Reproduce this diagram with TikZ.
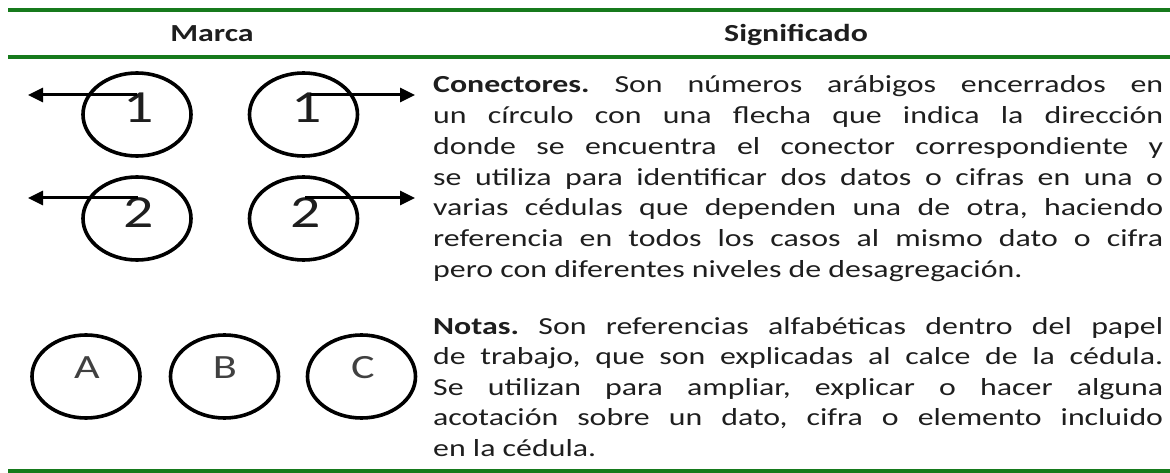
\documentclass[tikz,border=0pt]{standalone}
\usepackage{fontspec}
\setmainfont{Carlito}[FakeStretch=1.3]
\usetikzlibrary{shapes.geometric,arrows.meta}
\definecolor{rulegreen}{RGB}{22,122,28}
\definecolor{txt}{RGB}{30,30,30}
\newcommand{\jline}[1]{\makebox[\linewidth][s]{#1}}
\frenchspacing
\begin{document}
\begin{tikzpicture}[x=1pt,y=-1pt]
\tikzset{
  rule/.style={draw=rulegreen, line width=4pt},
  ring/.style={ellipse, draw=black, line width=3.6pt, minimum width=108pt, minimum height=83pt, inner sep=0pt},
  digit/.style={anchor=base, inner sep=0pt, text=txt, font=\fontsize{46}{50}\selectfont},
  letter/.style={anchor=base, inner sep=0pt, text=txt!85, font=\fontsize{34}{40}\selectfont},
  head/.style={anchor=base, inner sep=0pt, text=txt, font=\bfseries\fontsize{24.5}{30}\selectfont},
  para/.style={anchor=base west, inner sep=0pt, text=txt},
  flecha/.style={line width=3pt, -{Triangle[length=15pt,width=14pt]}},
}
\useasboundingbox (0,0) rectangle (1170,473);
% rules
\coordinate (r1l) at (8,10);   \coordinate (r1r) at (1170,10);
\coordinate (r2l) at (8,57);   \coordinate (r2r) at (1170,57);
\coordinate (r3l) at (8,471);  \coordinate (r3r) at (1170,471);
\draw[rule] (r1l) -- (r1r);
\draw[rule] (r2l) -- (r2r);
\draw[rule] (r3l) -- (r3r);
% headers
\node[head] (hmarca) at (212,42) {Marca};
\node[head] (hsig) at (796,42) {Significado};
% connector circles
\node[ring] (c1l) at (137,114.5) {};
\node[ring] (c1r) at (303.5,114.5) {};
\node[ring] (c2l) at (137,218.5) {};
\node[ring] (c2r) at (303.5,218.5) {};
\node[digit] (d1l) at (139,123) {1};
\node[digit] (d1r) at (307,123) {1};
\node[digit] (d2l) at (139,228) {2};
\node[digit] (d2r) at (306,228) {2};
% arrows
\coordinate (s1l) at (137,95);  \coordinate (t1l) at (28,95);
\coordinate (s1r) at (310,95);  \coordinate (t1r) at (415,95);
\coordinate (s2l) at (138,198); \coordinate (t2l) at (28,198);
\coordinate (s2r) at (305,198); \coordinate (t2r) at (415,198);
\draw[flecha] (s1l) -- (t1l);
\draw[flecha] (s1r) -- (t1r);
\draw[flecha] (s2l) -- (t2l);
\draw[flecha] (s2r) -- (t2r);
% note circles
\node[ring] (nA) at (86,376.5) {};
\node[ring] (nB) at (224.5,376.5) {};
\node[ring] (nC) at (361.5,376.5) {};
\node[letter] (lA) at (87,378) {A};
\node[letter] (lB) at (225,378) {B};
\node[letter] (lC) at (363,378) {C};
% texts
\node[para] (pcon) at (433,93) {\parbox[t]{730pt}{\fontsize{24.5}{30.7}\selectfont
\jline{\textbf{Conectores.} Son números arábigos encerrados en}\\
\jline{un círculo con una flecha que indica la dirección}\\
\jline{donde se encuentra el conector correspondiente y}\\
\jline{se utiliza para identificar dos datos o cifras en una o}\\
\jline{varias cédulas que dependen una de otra, haciendo}\\
\jline{referencia en todos los casos al mismo dato o cifra}\\
pero con diferentes niveles de desagregación.}};
\node[para] (pnot) at (433,334) {\parbox[t]{730pt}{\fontsize{24.5}{30.5}\selectfont
\jline{\textbf{Notas.} Son referencias alfabéticas dentro del papel}\\
\jline{de trabajo, que son explicadas al calce de la cédula.}\\
\jline{Se utilizan para ampliar, explicar o hacer alguna}\\
\jline{acotación sobre un dato, cifra o elemento incluido}\\
en la cédula.}};
\end{tikzpicture}
\end{document}
